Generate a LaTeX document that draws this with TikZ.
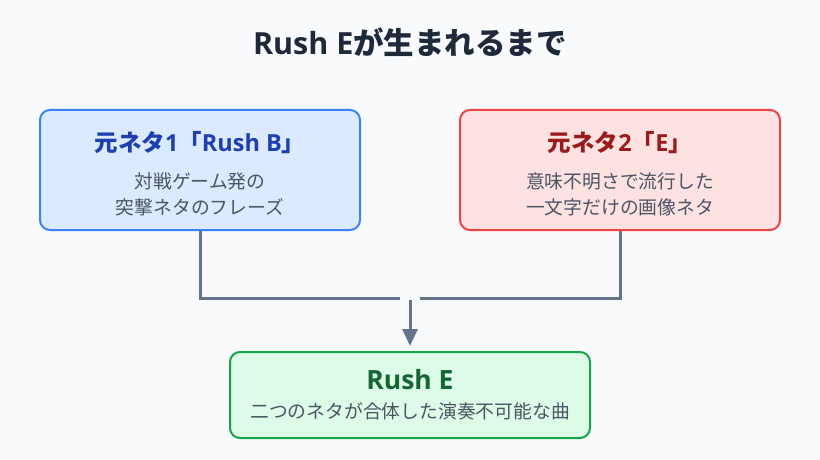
\documentclass[tikz,border=0pt]{standalone}
\usepackage{fontspec}
\setmainfont{Noto Sans CJK JP}
\newfontfamily\lat{Open Sans}
\usetikzlibrary{arrows.meta}
\definecolor{bg}{HTML}{F8FAFC}
\definecolor{titlec}{HTML}{1E293B}
\definecolor{subc}{HTML}{4B5563}
\definecolor{connc}{HTML}{64748B}
\definecolor{blueS}{HTML}{3B82F6}
\definecolor{blueF}{HTML}{DBEAFE}
\definecolor{blueT}{HTML}{1E40AF}
\definecolor{redS}{HTML}{EF4444}
\definecolor{redF}{HTML}{FEE2E2}
\definecolor{redT}{HTML}{991B1B}
\definecolor{greenS}{HTML}{16A34A}
\definecolor{greenF}{HTML}{DCFCE7}
\definecolor{greenT}{HTML}{166534}
\tikzset{
  box/.style={draw, line width=2pt, rounded corners=10pt, inner sep=0pt},
  boxtitle/.style={font=\bfseries\fontsize{23.5}{27}\selectfont, inner sep=0pt},
  subtext/.style={font=\fontsize{18.8}{22}\selectfont, text=subc, inner sep=0pt},
  conn/.style={draw=connc, line width=3pt},
}
\begin{document}
\begin{tikzpicture}[x=1pt,y=-1pt]
\fill[bg] (0,0) rectangle (820,460);
\useasboundingbox (0,0) rectangle (820,460);
\node[font=\bfseries\fontsize{30.5}{35}\selectfont, text=titlec, inner sep=0pt] (title) at (410,42) {{\lat\bfseries Rush E}が生まれるまで};
% boxes
\node[box, draw=blueS, fill=blueF, minimum width=320pt, minimum height=120pt] (b1) at (200,170) {};
\node[box, draw=redS, fill=redF, minimum width=320pt, minimum height=120pt] (b2) at (620,170) {};
\node[box, draw=greenS, fill=greenF, minimum width=360pt, minimum height=86pt] (b3) at (410,395) {};
% texts
\node[boxtitle, text=blueT] (t1) at (200,143) {元ネタ{\lat\bfseries 1}「{\lat\bfseries Rush B}」};
\node[subtext] (s1a) at (200,181) {対戦ゲーム発の};
\node[subtext] (s1b) at (200,207) {突撃ネタのフレーズ};
\node[boxtitle, text=redT] (t2) at (620,143) {元ネタ{\lat\bfseries 2}「{\lat\bfseries E}」};
\node[subtext] (s2a) at (620,181) {意味不明さで流行した};
\node[subtext] (s2b) at (620,207) {一文字だけの画像ネタ};
\node[boxtitle, font=\bfseries\fontsize{26.5}{30}\selectfont, text=greenT] (t3) at (410,380) {\lat\bfseries Rush E};
\node[subtext] (s3) at (410,411) {二つのネタが合体した演奏不可能な曲};
% connectors
\coordinate (jl) at (400,298);
\coordinate (jr) at (420,298);
\coordinate (as) at (410,300);
\draw[conn] (b1.south) |- (jl);
\draw[conn] (b2.south) |- (jr);
\draw[conn, -{Triangle[length=17pt,width=15pt]}, shorten >=5pt] (as) -- (b3.north);
\end{tikzpicture}
\end{document}
